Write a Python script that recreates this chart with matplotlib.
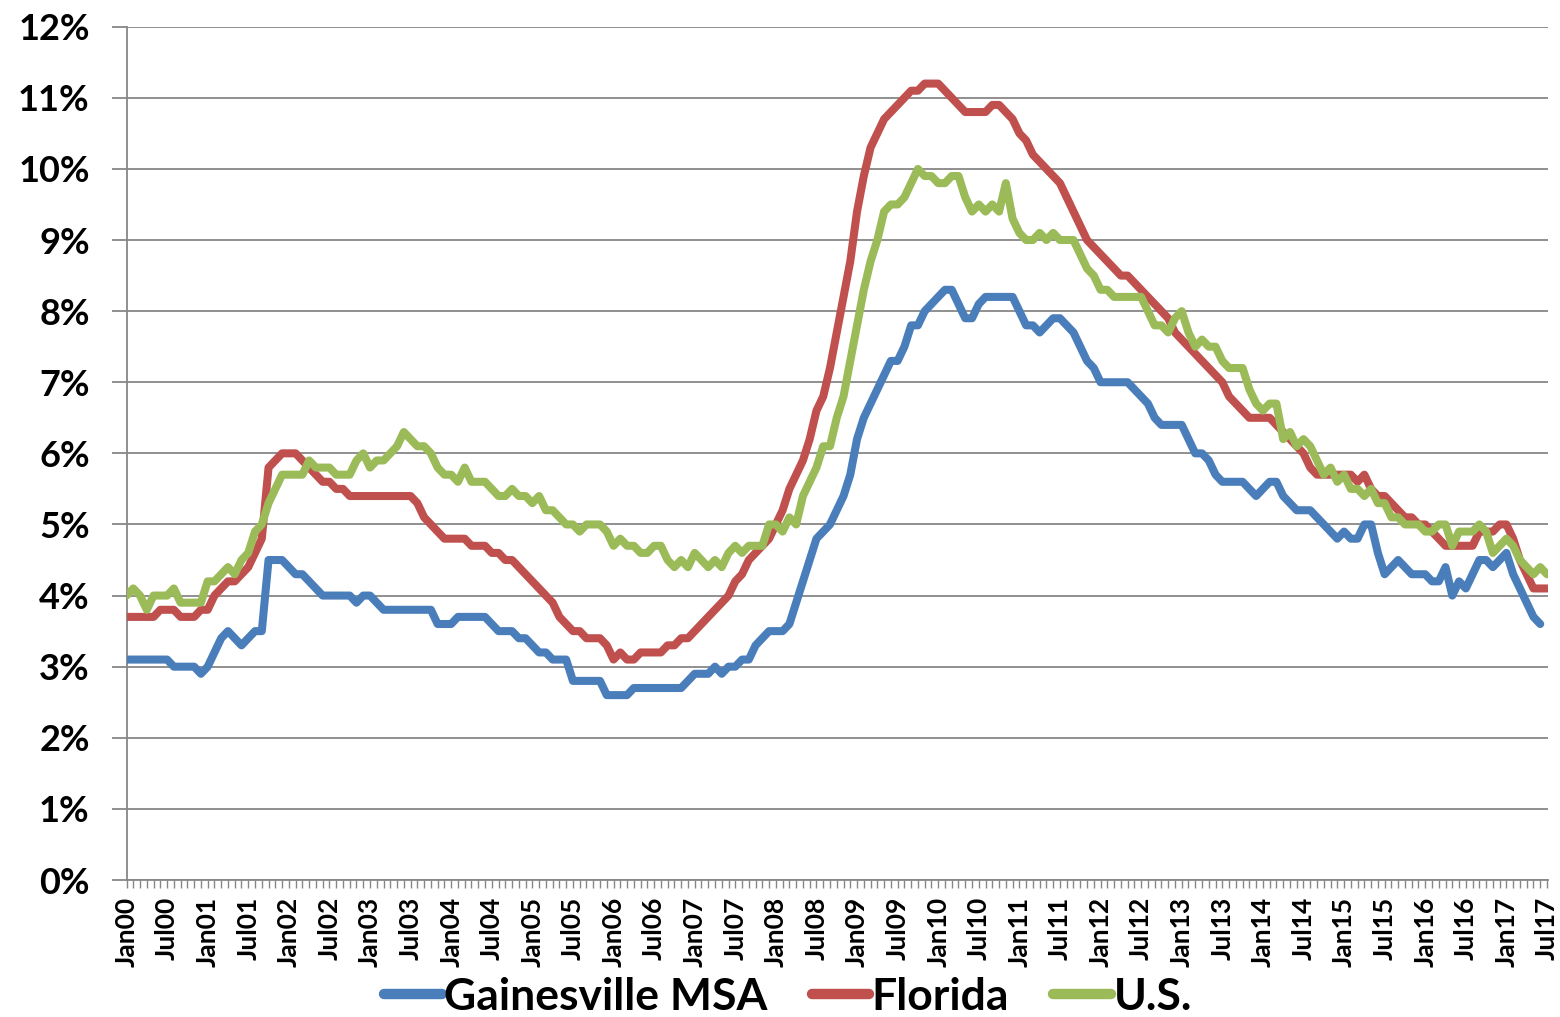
import numpy as np
import pandas as pd
import matplotlib
matplotlib.use("Agg")
import matplotlib.pyplot as plt
import matplotlib.transforms as mtransforms
from matplotlib.ticker import MultipleLocator, FixedLocator

# monthly unemployment rate (%), Jan 2000 - Jul 2017
months = pd.date_range("2000-01-01", "2017-07-01", freq="MS")

gainesville = [
    3.1, 3.1, 3.1, 3.1, 3.1, 3.1, 3.1, 3.0, 3.0, 3.0, 3.0, 2.9,   # 2000
    3.0, 3.2, 3.4, 3.5, 3.4, 3.3, 3.4, 3.5, 3.5, 4.5, 4.5, 4.5,   # 2001
    4.4, 4.3, 4.3, 4.2, 4.1, 4.0, 4.0, 4.0, 4.0, 4.0, 3.9, 4.0,   # 2002
    4.0, 3.9, 3.8, 3.8, 3.8, 3.8, 3.8, 3.8, 3.8, 3.8, 3.6, 3.6,   # 2003
    3.6, 3.7, 3.7, 3.7, 3.7, 3.7, 3.6, 3.5, 3.5, 3.5, 3.4, 3.4,   # 2004
    3.3, 3.2, 3.2, 3.1, 3.1, 3.1, 2.8, 2.8, 2.8, 2.8, 2.8, 2.6,   # 2005
    2.6, 2.6, 2.6, 2.7, 2.7, 2.7, 2.7, 2.7, 2.7, 2.7, 2.7, 2.8,   # 2006
    2.9, 2.9, 2.9, 3.0, 2.9, 3.0, 3.0, 3.1, 3.1, 3.3, 3.4, 3.5,   # 2007
    3.5, 3.5, 3.6, 3.9, 4.2, 4.5, 4.8, 4.9, 5.0, 5.2, 5.4, 5.7,   # 2008
    6.2, 6.5, 6.7, 6.9, 7.1, 7.3, 7.3, 7.5, 7.8, 7.8, 8.0, 8.1,   # 2009
    8.2, 8.3, 8.3, 8.1, 7.9, 7.9, 8.1, 8.2, 8.2, 8.2, 8.2, 8.2,   # 2010
    8.0, 7.8, 7.8, 7.7, 7.8, 7.9, 7.9, 7.8, 7.7, 7.5, 7.3, 7.2,   # 2011
    7.0, 7.0, 7.0, 7.0, 7.0, 6.9, 6.8, 6.7, 6.5, 6.4, 6.4, 6.4,   # 2012
    6.4, 6.2, 6.0, 6.0, 5.9, 5.7, 5.6, 5.6, 5.6, 5.6, 5.5, 5.4,   # 2013
    5.5, 5.6, 5.6, 5.4, 5.3, 5.2, 5.2, 5.2, 5.1, 5.0, 4.9, 4.8,   # 2014
    4.9, 4.8, 4.8, 5.0, 5.0, 4.6, 4.3, 4.4, 4.5, 4.4, 4.3, 4.3,   # 2015
    4.3, 4.2, 4.2, 4.4, 4.0, 4.2, 4.1, 4.3, 4.5, 4.5, 4.4, 4.5,   # 2016
    4.6, 4.3, 4.1, 3.9, 3.7, 3.6, np.nan,                         # 2017
]

florida = [
    3.7, 3.7, 3.7, 3.7, 3.7, 3.8, 3.8, 3.8, 3.7, 3.7, 3.7, 3.8,
    3.8, 4.0, 4.1, 4.2, 4.2, 4.3, 4.4, 4.6, 4.8, 5.8, 5.9, 6.0,
    6.0, 6.0, 5.9, 5.8, 5.7, 5.6, 5.6, 5.5, 5.5, 5.4, 5.4, 5.4,
    5.4, 5.4, 5.4, 5.4, 5.4, 5.4, 5.4, 5.3, 5.1, 5.0, 4.9, 4.8,
    4.8, 4.8, 4.8, 4.7, 4.7, 4.7, 4.6, 4.6, 4.5, 4.5, 4.4, 4.3,
    4.2, 4.1, 4.0, 3.9, 3.7, 3.6, 3.5, 3.5, 3.4, 3.4, 3.4, 3.3,
    3.1, 3.2, 3.1, 3.1, 3.2, 3.2, 3.2, 3.2, 3.3, 3.3, 3.4, 3.4,
    3.5, 3.6, 3.7, 3.8, 3.9, 4.0, 4.2, 4.3, 4.5, 4.6, 4.7, 4.8,
    5.0, 5.2, 5.5, 5.7, 5.9, 6.2, 6.6, 6.8, 7.2, 7.7, 8.2, 8.7,
    9.4, 9.9, 10.3, 10.5, 10.7, 10.8, 10.9, 11.0, 11.1, 11.1, 11.2, 11.2,
    11.2, 11.1, 11.0, 10.9, 10.8, 10.8, 10.8, 10.8, 10.9, 10.9, 10.8, 10.7,
    10.5, 10.4, 10.2, 10.1, 10.0, 9.9, 9.8, 9.6, 9.4, 9.2, 9.0, 8.9,
    8.8, 8.7, 8.6, 8.5, 8.5, 8.4, 8.3, 8.2, 8.1, 8.0, 7.9, 7.7,
    7.6, 7.5, 7.4, 7.3, 7.2, 7.1, 7.0, 6.8, 6.7, 6.6, 6.5, 6.5,
    6.5, 6.5, 6.4, 6.3, 6.2, 6.1, 6.0, 5.8, 5.7, 5.7, 5.7, 5.7,
    5.7, 5.7, 5.6, 5.7, 5.5, 5.4, 5.4, 5.3, 5.2, 5.1, 5.1, 5.0,
    5.0, 4.9, 4.8, 4.7, 4.7, 4.7, 4.7, 4.7, 4.9, 4.9, 4.9, 5.0,
    5.0, 4.8, 4.5, 4.3, 4.1, 4.1, 4.1,
]

us = [
    4.0, 4.1, 4.0, 3.8, 4.0, 4.0, 4.0, 4.1, 3.9, 3.9, 3.9, 3.9,
    4.2, 4.2, 4.3, 4.4, 4.3, 4.5, 4.6, 4.9, 5.0, 5.3, 5.5, 5.7,
    5.7, 5.7, 5.7, 5.9, 5.8, 5.8, 5.8, 5.7, 5.7, 5.7, 5.9, 6.0,
    5.8, 5.9, 5.9, 6.0, 6.1, 6.3, 6.2, 6.1, 6.1, 6.0, 5.8, 5.7,
    5.7, 5.6, 5.8, 5.6, 5.6, 5.6, 5.5, 5.4, 5.4, 5.5, 5.4, 5.4,
    5.3, 5.4, 5.2, 5.2, 5.1, 5.0, 5.0, 4.9, 5.0, 5.0, 5.0, 4.9,
    4.7, 4.8, 4.7, 4.7, 4.6, 4.6, 4.7, 4.7, 4.5, 4.4, 4.5, 4.4,
    4.6, 4.5, 4.4, 4.5, 4.4, 4.6, 4.7, 4.6, 4.7, 4.7, 4.7, 5.0,
    5.0, 4.9, 5.1, 5.0, 5.4, 5.6, 5.8, 6.1, 6.1, 6.5, 6.8, 7.3,
    7.8, 8.3, 8.7, 9.0, 9.4, 9.5, 9.5, 9.6, 9.8, 10.0, 9.9, 9.9,
    9.8, 9.8, 9.9, 9.9, 9.6, 9.4, 9.5, 9.4, 9.5, 9.4, 9.8, 9.3,
    9.1, 9.0, 9.0, 9.1, 9.0, 9.1, 9.0, 9.0, 9.0, 8.8, 8.6, 8.5,
    8.3, 8.3, 8.2, 8.2, 8.2, 8.2, 8.2, 8.0, 7.8, 7.8, 7.7, 7.9,
    8.0, 7.7, 7.5, 7.6, 7.5, 7.5, 7.3, 7.2, 7.2, 7.2, 6.9, 6.7,
    6.6, 6.7, 6.7, 6.2, 6.3, 6.1, 6.2, 6.1, 5.9, 5.7, 5.8, 5.6,
    5.7, 5.5, 5.5, 5.4, 5.5, 5.3, 5.3, 5.1, 5.1, 5.0, 5.0, 5.0,
    4.9, 4.9, 5.0, 5.0, 4.7, 4.9, 4.9, 4.9, 5.0, 4.9, 4.6, 4.7,
    4.8, 4.7, 4.5, 4.4, 4.3, 4.4, 4.3,
]

series_names = ["Gainesville MSA", "Florida", "U.S."]
series_colors = ["#4a7ebb", "#c0504d", "#9bbb59"]
y_ticks = list(range(0, 13))

FONT = "Lato"
GRID = "#878787"

x = np.arange(len(months))
tick_pos = x[::6]
tick_labels = [d.strftime("%b%y") for d in months[::6]]

fig = plt.figure(figsize=(15.6, 10.17), dpi=100)
ax = fig.add_axes([126.5 / 1560, 1 - 880 / 1017, (1548 - 126.5) / 1560, (880 - 26.7) / 1017])

for vals, name, col in zip([gainesville, florida, us], series_names, series_colors):
    ax.plot(x, vals, color=col, lw=5.8, label=name,
            solid_capstyle="round", solid_joinstyle="round", zorder=3)

ax.set_xlim(0, x[-1] + 0.15)
ax.set_ylim(0, 12)
ax.set_yticks(y_ticks)
ax.set_yticklabels([f"{v}%" for v in y_ticks], fontfamily=FONT,
                   fontweight="bold", fontsize=26)
ax.yaxis.grid(True, color=GRID, lw=1.3)
ax.set_axisbelow(True)

ax.xaxis.set_major_locator(FixedLocator(tick_pos))
ax.xaxis.set_minor_locator(MultipleLocator(1))
ax.set_xticklabels(tick_labels, rotation=90, fontfamily=FONT,
                   fontweight="bold", fontsize=19)
# nudge the rotated month labels a few pixels right, as in the original
shift = mtransforms.ScaledTranslation(4 / 100, 0, fig.dpi_scale_trans)
for lbl in ax.get_xticklabels():
    lbl.set_transform(lbl.get_transform() + shift)
ax.tick_params(axis="x", which="both", length=5.8, width=1.0, color=GRID,
               direction="out", pad=6)
ax.tick_params(axis="y", length=10.5, width=1.3, color=GRID, pad=16)

for side in ["top", "right"]:
    ax.spines[side].set_visible(False)
for side in ["left", "bottom"]:
    ax.spines[side].set_color(GRID)
    ax.spines[side].set_linewidth(1.3)

leg = fig.legend(loc="center", bbox_to_anchor=(0.505, 0.02), ncol=3,
                 frameon=False, handlelength=1.3, handletextpad=0.05,
                 columnspacing=1.0,
                 prop={"family": FONT, "weight": "bold", "size": 32})
for h in leg.get_lines():
    h.set_linewidth(7.5)
    h.set_solid_capstyle("round")

fig.savefig("out.png", dpi=100, facecolor="white")
